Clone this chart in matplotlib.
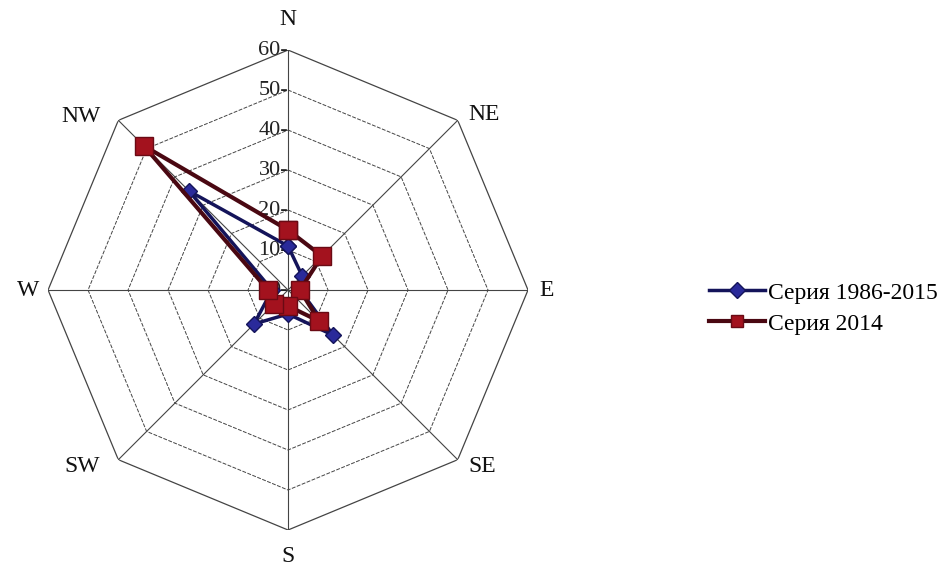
import numpy as np
import matplotlib.pyplot as plt

directions = ['N', 'NE', 'E', 'SE', 'S', 'SW', 'W', 'NW']
series_1986_2015 = [11, 5, 3, 16, 6, 12, 4, 35]
series_2014 = [15, 12, 3, 11, 4, 5, 5, 51]
ring_values = [10, 20, 30, 40, 50, 60]
tick_labels = ['0', '10', '20', '30', '40', '50', '60']

plt.rcParams['font.family'] = ['Liberation Serif', 'DejaVu Serif']

fig = plt.figure(figsize=(9.47, 5.66), dpi=100)
ax = fig.add_axes([0.0507, 0.0636, 0.5069, 0.848], projection='polar')
ax.set_theta_zero_location('N')
ax.set_theta_direction(-1)
ax.set_ylim(0, 60)
ax.grid(False)
ax.spines['polar'].set_visible(False)
ax.set_xticks([])
ax.set_yticks([])
ax.patch.set_alpha(0)

theta = np.deg2rad(np.arange(len(directions)) * 45)
theta_c = np.append(theta, theta[0])

# octagon rings
for r in ring_values:
    ax.plot(theta_c, [r] * len(theta_c), color='#444444',
            lw=0.9 if r == 60 else 0.7, ls='-' if r == 60 else (0, (4, 1.5)),
            zorder=1)
# spokes
for t in theta:
    ax.plot([t, t], [0, 60], color='#444444', lw=0.8, zorder=1)

# radial tick labels
for r, lab in zip([0] + ring_values, tick_labels):
    ax.text(0, r, lab + '-', ha='right', va='center', fontsize=16,
            color='#222222', zorder=2)

# direction labels, offset from the outer vertices (in points)
offsets = {'N': (0, 22, 'center'), 'NE': (8, 4, 'left'), 'E': (8, 0, 'left'),
           'SE': (8, -5, 'left'), 'S': (0, -19, 'center'),
           'SW': (-13, -5, 'right'), 'W': (-6, 0, 'right'),
           'NW': (-13, 3, 'right')}
for t, d in zip(theta, directions):
    dx, dy, ha = offsets[d]
    ax.annotate(d, (t, 60), xytext=(dx, dy), textcoords='offset points',
                ha=ha, va='center', fontsize=17, color='#111111',
                annotation_clip=False)

v1 = series_1986_2015 + series_1986_2015[:1]
v2 = series_2014 + series_2014[:1]
ax.plot(theta_c, v1, color='#14145a', lw=2.5, marker='D', markersize=8,
        markerfacecolor='#2a2a9a', markeredgecolor='#14145a', zorder=3,
        clip_on=False, label='Серия 1986-2015')
ax.plot(theta_c, v2, color='#4a0812', lw=3, marker='s', markersize=13,
        markerfacecolor='#a3121e', markeredgecolor='#6a0a14', zorder=4,
        clip_on=False, label='Серия 2014')

leg = fig.legend(loc='center left', bbox_to_anchor=(0.726, 0.455),
                 frameon=False, fontsize=17, handlelength=2.4,
                 handletextpad=0.1, labelspacing=0.4)
for h in leg.legend_handles:
    h.set_markersize(8)

fig.savefig('out.png', dpi=100)
